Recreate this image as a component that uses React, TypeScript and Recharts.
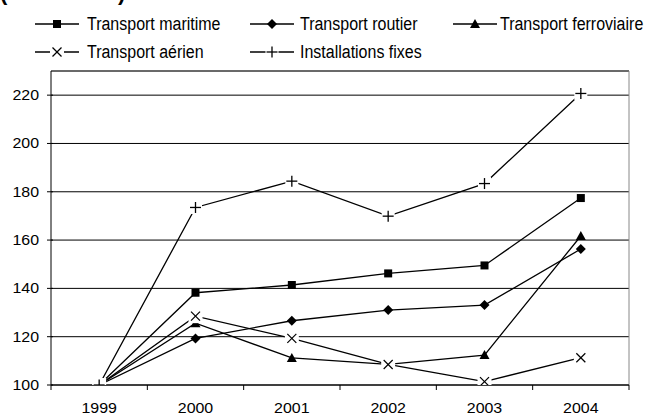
import React from 'react';
import { LineChart, Line, XAxis, YAxis, CartesianGrid, ReferenceLine } from 'recharts';

const categories = ['1999', '2000', '2001', '2002', '2003', '2004'];
const maritime = [100, 138.2, 141.4, 146.2, 149.5, 177.4];
const routier = [100, 119.3, 126.6, 131.0, 133.1, 156.3];
const ferroviaire = [100, 125.6, 111.2, 108.5, 112.4, 161.7];
const aerien = [100, 128.5, 119.3, 108.5, 101.4, 111.3];
const fixes = [100, 173.5, 184.4, 169.9, 183.4, 220.7];
const yTicks = [100, 120, 140, 160, 180, 200, 220];
const seriesNames = ['Transport maritime', 'Transport routier', 'Transport ferroviaire', 'Transport aérien', 'Installations fixes'];
const titleText = '(1999 = 100)';

const W = 653;
const H = 416;
const M = { top: 71, right: 24, bottom: 0, left: 0 };
const Y_AXIS_W = 51;
const X_AXIS_H = 31;
const PLOT_W = W - M.left - M.right - Y_AXIS_W;
const HALF_BAND = PLOT_W / categories.length / 2;
const FONT = '"Liberation Sans", Arial, sans-serif';
const AXIS_FS = 14.5;
const AXIS_SX = 1.1;

const data = categories.map((c, i) => ({
  idx: i,
  year: c,
  maritime: maritime[i],
  routier: routier[i],
  ferroviaire: ferroviaire[i],
  aerien: aerien[i],
  fixes: fixes[i],
}));

const xTicks = [...categories.map((_, i) => i - 0.5), categories.length - 0.5];

type DotProps = { cx?: number; cy?: number; index?: number };

const drawSquare = (cx: number, cy: number, k?: any) => (
  <rect key={k} x={cx - 4} y={cy - 4} width={8} height={8} fill="#000" />
);
const drawDiamond = (cx: number, cy: number, k?: any) => (
  <polygon key={k} points={`${cx},${cy - 5} ${cx + 5},${cy} ${cx},${cy + 5} ${cx - 5},${cy}`} fill="#000" />
);
const drawTriangle = (cx: number, cy: number, k?: any) => (
  <polygon key={k} points={`${cx},${cy - 5} ${cx + 5},${cy + 4} ${cx - 5},${cy + 4}`} fill="#000" />
);
const drawCross = (cx: number, cy: number, k?: any) => (
  <g key={k}>
    <rect x={cx - 7} y={cy - 7} width={14} height={14} fill="#fff" />
    <line x1={cx - 4.5} y1={cy - 4.5} x2={cx + 4.5} y2={cy + 4.5} stroke="#000" strokeWidth={1.2} />
    <line x1={cx - 4.5} y1={cy + 4.5} x2={cx + 4.5} y2={cy - 4.5} stroke="#000" strokeWidth={1.2} />
  </g>
);
const drawPlus = (cx: number, cy: number, k?: any) => (
  <g key={k}>
    <rect x={cx - 6.5} y={cy - 6.5} width={13} height={13} fill="#fff" />
    <line x1={cx - 5.5} y1={cy} x2={cx + 5.5} y2={cy} stroke="#000" strokeWidth={1.3} />
    <line x1={cx} y1={cy - 5.5} x2={cx} y2={cy + 5.5} stroke="#000" strokeWidth={1.3} />
  </g>
);

const markers = [drawSquare, drawDiamond, drawTriangle, drawCross, drawPlus];
const keys = ['maritime', 'routier', 'ferroviaire', 'aerien', 'fixes'];

const makeDot = (fn: (cx: number, cy: number, k?: any) => React.ReactElement) => (p: DotProps) =>
  p.cx == null || p.cy == null ? <g key={p.index} /> : fn(p.cx, p.cy, p.index);

const YTick = (p: any) => (
  <g>
    <line x1={p.x + 8} x2={p.x + 14} y1={p.y} y2={p.y} stroke="#000" strokeWidth={1} />
    <text
      transform={`translate(${p.x},${p.y + 5}) scale(${AXIS_SX},1)`}
      textAnchor="end"
      fontSize={AXIS_FS}
      fontFamily={FONT}
      fill="#000"
    >
      {p.payload.value}
    </text>
  </g>
);

const XTick = (p: any) => {
  const i = p.index;
  if (i >= categories.length) return <g />;
  return (
    <text
      transform={`translate(${p.x + HALF_BAND},${p.y + 10.4}) scale(${AXIS_SX},1)`}
      textAnchor="middle"
      fontSize={AXIS_FS}
      fontFamily={FONT}
      fill="#000"
    >
      {categories[i]}
    </text>
  );
};

const legendLayout = [
  { x: 35, y: 24, tx: 52 },
  { x: 250, y: 24, tx: 50 },
  { x: 453, y: 24, tx: 47 },
  { x: 35, y: 52, tx: 52 },
  { x: 250, y: 52, tx: 50 },
];

const Legendary = () => (
  <svg width={W} height={70} style={{ position: 'absolute', left: 0, top: 0, pointerEvents: 'none' }}>
    <text x={0} y={0} fontSize={22} fontWeight="bold" fontFamily={FONT} fill="#000">
      {titleText}
    </text>
    {seriesNames.map((name, i) => {
      const L = legendLayout[i];
      return (
        <g key={name}>
          <line x1={L.x} x2={L.x + 44} y1={L.y} y2={L.y} stroke="#000" strokeWidth={1.3} />
          {markers[i](L.x + 22, L.y)}
          <text
            transform={`translate(${L.x + L.tx},${L.y + 6}) scale(1,1.1)`}
            fontSize={16}
            fontFamily={FONT}
            fill="#000"
          >
            {name}
          </text>
        </g>
      );
    })}
  </svg>
);

export default function App() {
  return (
    <div style={{ position: 'absolute', left: 0, top: 0, width: W, height: H, background: '#fff' }}>
      <LineChart width={W} height={H} data={data} margin={M}>
        <CartesianGrid horizontal vertical={false} stroke="#000" strokeWidth={1} />
        <XAxis
          type="number"
          dataKey="idx"
          domain={[-0.5, categories.length - 0.5]}
          ticks={xTicks}
          interval={0}
          height={X_AXIS_H}
          tick={XTick}
          tickSize={5}
          tickMargin={13}
          axisLine={{ stroke: '#000' }}
          tickLine={{ stroke: '#000' }}
        />
        <YAxis
          type="number"
          domain={[100, 230]}
          ticks={yTicks}
          interval={0}
          width={Y_AXIS_W}
          tick={YTick}
          tickSize={0}
          tickMargin={12}
          tickLine={false}
          axisLine={{ stroke: '#000' }}
          allowDataOverflow
        />
        <ReferenceLine y={230} stroke="#555" strokeWidth={1} />
        <ReferenceLine x={categories.length - 0.5} stroke="#888" strokeWidth={1} />
        {keys.map((k, i) => (
          <Line
            key={k}
            type="linear"
            dataKey={k}
            name={seriesNames[i]}
            stroke="#000"
            strokeWidth={1.3}
            dot={makeDot(markers[i]) as any}
            activeDot={false}
            isAnimationActive={false}
          />
        ))}
      </LineChart>
      <Legendary />
    </div>
  );
}
